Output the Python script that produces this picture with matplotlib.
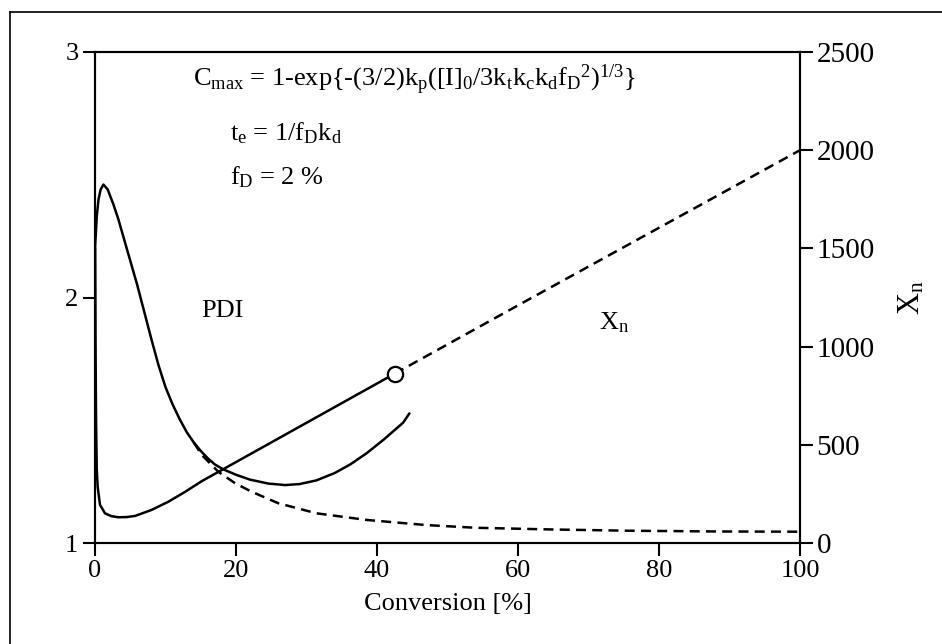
import numpy as np
import matplotlib.pyplot as plt
from matplotlib.lines import Line2D

plt.rcParams['font.family'] = ['Liberation Serif', 'DejaVu Serif']
plt.rcParams['mathtext.fontset'] = 'custom'
plt.rcParams['mathtext.rm'] = 'Liberation Serif'
plt.rcParams['mathtext.it'] = 'Liberation Serif:italic'

# PDI (left axis), solid part
pdi_x = [0.0, 0.25, 0.5, 0.8, 1.2, 1.8, 2.6, 3.3, 4.0, 5.0, 6.0, 7.0, 8.0, 9.0,
         10.0, 11.0, 12.0, 13.0, 14.0, 15.0, 16.0, 17.0, 18.2, 20.0, 22.0, 24.6,
         27.0, 29.0, 31.4, 34.0, 36.2, 38.5, 40.9, 42.5, 43.7, 44.6]
pdi_y = [2.20, 2.33, 2.40, 2.44, 2.46, 2.44, 2.38, 2.32, 2.25, 2.15, 2.05, 1.94, 1.83, 1.725,
         1.635, 1.565, 1.505, 1.452, 1.41, 1.375, 1.345, 1.32, 1.30, 1.278, 1.258, 1.242,
         1.236, 1.240, 1.255, 1.285, 1.32, 1.365, 1.42, 1.46, 1.49, 1.528]

# PDI, dashed branch
pdi_d_x = [14.0, 15.1, 17.5, 19.9, 22.2, 26.0, 31.4, 38.5, 47.0, 54.0, 65.0, 75.8, 88.0, 100.0]
pdi_d_y = [1.41, 1.36, 1.29, 1.243, 1.209, 1.162, 1.121, 1.094, 1.073, 1.062, 1.055, 1.050, 1.047, 1.046]

# Xn (right axis), solid part
xn_x = [0.03, 0.08, 0.15, 0.25, 0.38, 0.71, 1.42, 2.3, 3.3, 4.5, 5.7, 8.0, 10.4, 12.8, 15.1,
        20.0, 27.0, 42.5]
xn_y = [1500, 1000, 625, 375, 286, 194, 151, 137, 131, 132, 138, 168, 210, 261, 314,
        412, 552, 862]

# Xn, dashed branch
xn_d_x = [42.5, 60.0, 80.0, 100.0]
xn_d_y = [862, 1210, 1605, 2000]

# point where the two branches split
cmax_x = 42.5
cmax_xn = 862

fig = plt.figure(figsize=(9.42, 6.44), dpi=100)
ax = fig.add_axes([95 / 942, 1 - 543 / 644, 705 / 942, 491 / 644])
ax2 = ax.twinx()

lw = 1.8
line = dict(color='black', lw=lw, solid_joinstyle='round', solid_capstyle='round')
ax.plot(pdi_x, pdi_y, **line)
ax.plot(pdi_d_x, pdi_d_y, color='black', lw=lw, dashes=(4, 2.5))
ax2.plot(xn_x, xn_y, **line)
ax2.plot(xn_d_x, xn_d_y, color='black', lw=lw, dashes=(4, 2.5))
ax2.plot([cmax_x], [cmax_xn], 'o', mfc='white', mec='black', ms=11, mew=1.6)

ax.set_xlim(0, 100)
ax.set_ylim(1, 3)
ax2.set_ylim(0, 2500)
ax.set_xticks([0, 20, 40, 60, 80, 100])
ax.set_yticks([1, 2, 3])
ax2.set_yticks([0, 500, 1000, 1500, 2000, 2500])

for a in (ax, ax2):
    for s in a.spines.values():
        s.set_linewidth(1.5)
    a.tick_params(direction='out', length=9, width=1.5, labelsize=19, pad=3)
ax2.tick_params(labelsize=21)

ax.set_xlabel('Conversion [%]', fontsize=19, labelpad=8)
ax2.set_ylabel('X$_{\\rm n}$', fontsize=22, labelpad=16)

txt = dict(fontsize=19, color='black')
ax.text(13.9, 2.86, 'C$_{\\rm max}$ = 1-exp{-(3/2)k$_{\\rm p}$([I]$_{0}$/3k$_{\\rm t}$k$_{\\rm c}$k$_{\\rm d}$f$_{\\rm D}$$^{2}$)$^{1/3}$}',
        va='baseline', **txt)
ax.text(19.2, 2.64, 't$_{\\rm e}$ = 1/f$_{\\rm D}$k$_{\\rm d}$', va='baseline', **txt)
ax.text(19.2, 2.46, 'f$_{\\rm D}$ = 2 %', va='baseline', **txt)
ax.text(15.0, 1.92, 'PDI', va='baseline', **txt)
ax.text(71.5, 1.87, 'X$_{\\rm n}$', va='baseline', **txt)

# frame around the figure (only left and top edges are visible in the scan)
fig.add_artist(Line2D([10 / 942, 10 / 942], [0, 1 - 12 / 644], color='black', lw=1.2))
fig.add_artist(Line2D([10 / 942, 1], [1 - 12 / 644, 1 - 12 / 644], color='black', lw=1.2))

plt.savefig('out.png', dpi=100)
